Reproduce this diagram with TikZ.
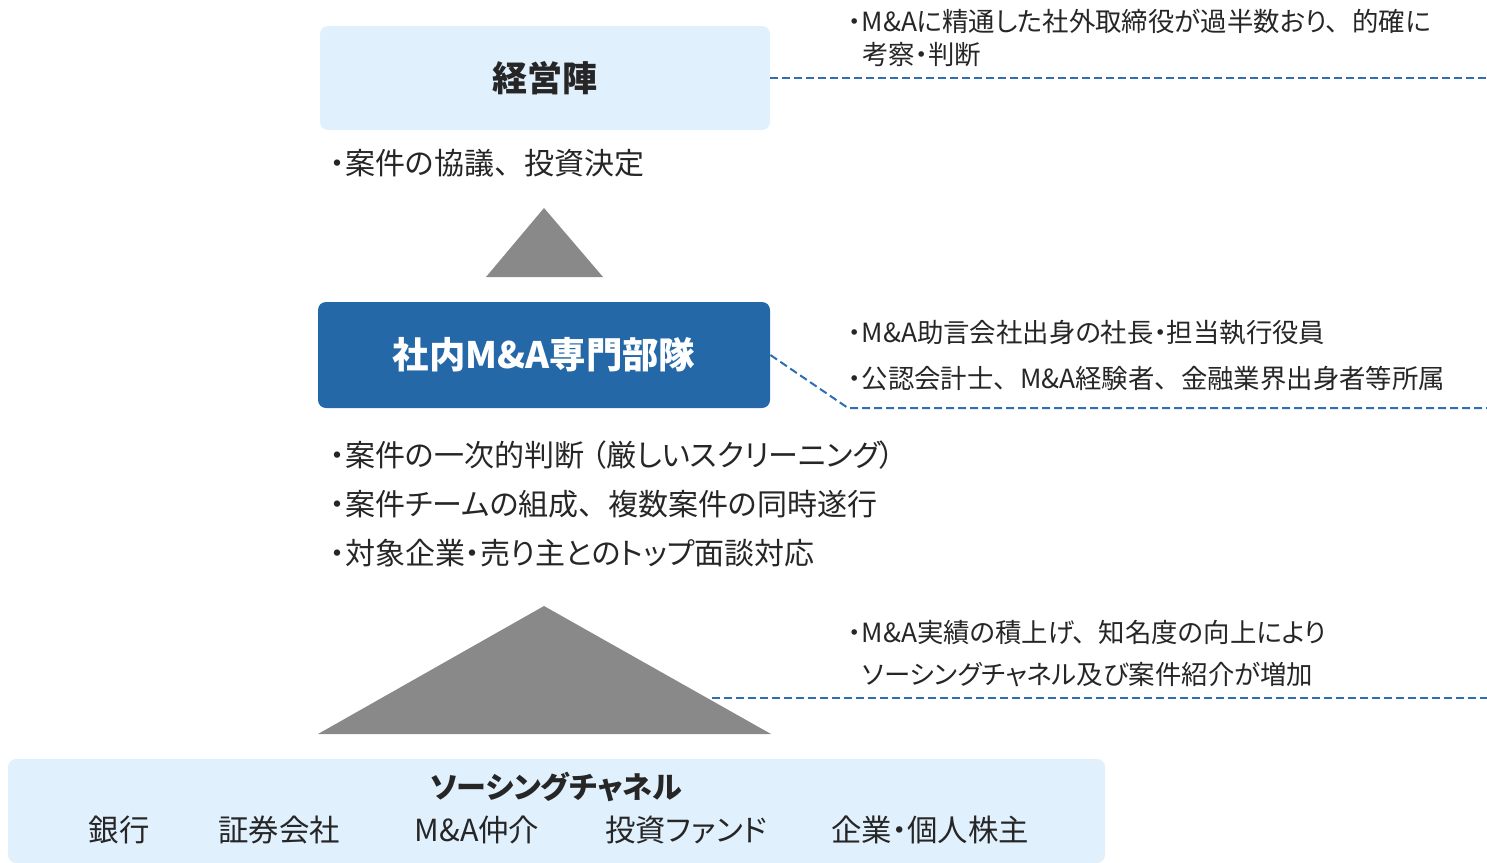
\documentclass[tikz,border=0pt]{standalone}
\usepackage{fontspec}
\setmainfont{Noto Sans CJK JP}[RawFeature=+palt]
\newcommand{\jten}{、\kern.5em}
\newcommand{\jpar}{\kern.25em（}
\definecolor{lightbox}{HTML}{E1F0FD}
\definecolor{darkbox}{HTML}{2468A8}
\definecolor{trigray}{HTML}{898989}
\definecolor{dashblue}{HTML}{2E6EB5}
\definecolor{txt}{HTML}{262626}
\tikzset{
  boxlight/.style={fill=lightbox, rounded corners=4pt, inner sep=0pt, text=txt},
  boxdark/.style={fill=darkbox, rounded corners=4pt, inner sep=0pt, text=white},
  titlefont/.style={font=\fontsize{17.5}{20}\selectfont\bfseries},
  bullet/.style={anchor=west, inner sep=0pt, text=txt, font=\fontsize{15}{18}\selectfont},
  note/.style={anchor=west, inner sep=0pt, text=txt, font=\fontsize{13.2}{15}\selectfont},
  itemtxt/.style={inner sep=0pt, text=txt, font=\fontsize{15.2}{18}\selectfont},
  dashline/.style={draw=dashblue, line width=1pt, dash pattern=on 4pt off 2pt},
  tri/.style={fill=trigray}
}
\begin{document}
\begin{tikzpicture}[x=0.5pt, y=-0.5pt]
\useasboundingbox (0,0) rectangle (1487,862);

% top box
\node[boxlight, titlefont, minimum width=225pt, minimum height=52pt] (board) at (545,78) {経営陣};
\node[bullet] (b0) at (330,163) {・案件の協議\jten 投資決定};

% small triangle
\fill[tri] (544,208) -- (603,277) -- (486,277) -- cycle;

% middle box
\node[boxdark, titlefont, font=\fontsize{18.2}{20}\selectfont\bfseries, minimum width=226pt, minimum height=53pt] (team) at (544,355) {社内M\&A専門部隊};
\node[bullet] (b1) at (330,455) {・案件の一次的判断\jpar 厳しいスクリーニング）};
\node[bullet] (b2) at (330,504) {・案件チームの組成\jten 複数案件の同時遂行};
\node[bullet] (b3) at (330,553) {・対象企業・売り主とのトップ面談対応};

% big triangle
\fill[tri] (544,606) -- (771,734) -- (318,734) -- cycle;
\coordinate (trir) at (712,698);

% bottom box
\node[boxlight, minimum width=548.5pt, minimum height=52pt] (chan) at (556.5,811) {};
\node[itemtxt, font=\fontsize{15}{18}\selectfont\bfseries] (chtitle) at (556,787) {ソーシングチャネル};
\node[itemtxt] (c1) at (119,830) {銀行};
\node[itemtxt] (c2) at (279,830) {証券会社};
\node[itemtxt] (c3) at (477,830) {M\&A仲介};
\node[itemtxt] (c4) at (686,830) {投資ファンド};
\node[itemtxt] (c5) at (930,830) {企業・個人株主};

% right notes
\node[note] (n1a) at (848,21) {・M\&Aに精通した社外取締役が過半数おり\jten 的確に};
\node[note] (n1b) at (862,55) {考察・判断};
\node[note] (n2a) at (848,333) {・M\&A助言会社出身の社長・担当執行役員};
\node[note] (n2b) at (848,378) {・公認会計士\jten M\&A経験者\jten 金融業界出身者等所属};
\node[note] (n3a) at (848,632) {・M\&A実績の積上げ\jten 知名度の向上により};
\node[note] (n3b) at (862,675) {ソーシングチャネル及び案件紹介が増加};

% dashed connectors
\coordinate (e1) at (1487,78);
\coordinate (k2) at (848,408);
\coordinate (e2) at (1487,408);
\coordinate (e3) at (1487,698);
\draw[dashline] (board.east) -- (e1);
\draw[dashline] (team.east) -- (k2) -- (e2);
\draw[dashline] (trir) -- (e3);
\end{tikzpicture}
\end{document}
